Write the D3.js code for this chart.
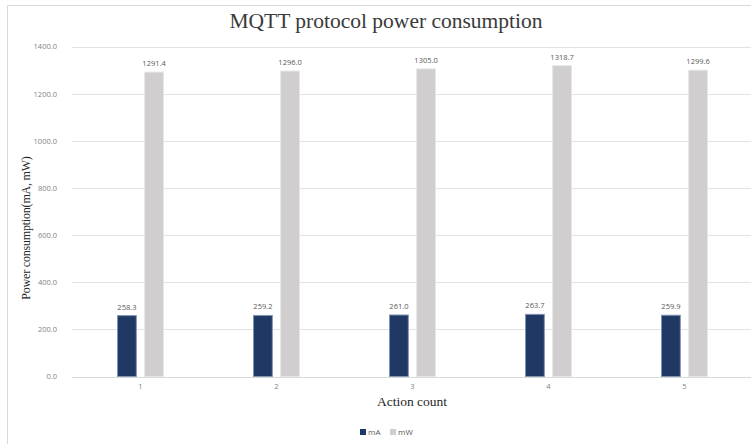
<!DOCTYPE html>
<html><head><meta charset="utf-8">
<script src="https://cdn.jsdelivr.net/npm/d3@7"></script>
<style>body{margin:0;background:#fff}svg{display:block}</style>
</head><body>
<svg id="chart" width="751" height="444"></svg>
<script>
const categories = ["1","2","3","4","5"];
const seriesNames = ["mA","mW"];
const mA = [258.3, 259.2, 261.0, 263.7, 259.9];
const mW = [1291.4, 1296.0, 1305.0, 1318.7, 1299.6];
const yTicks = [0,200,400,600,800,1000,1200,1400];
const colors = {mA:"#1f3864", mW:"#d0cece"};
const strokes = {mA:"#8497b0", mW:"#e7e6e6"};

const svg = d3.select("#chart");
svg.append("path").attr("d","M7.5,444 V5.5 H751").attr("fill","none").attr("stroke","#d9d9d9");

const x = d3.scaleBand().domain(categories).range([72.5, 752.5]).padding(0);
const inner = d3.scaleBand().domain(seriesNames).range([-23.5, 23.5]).paddingInner(0.27).paddingOuter(0);
const y = d3.scaleLinear().domain([0,1400]).range([376.5, 46.5]);

svg.append("g").selectAll("line").data(yTicks).join("line")
  .attr("x1",72).attr("x2",751).attr("y1",d=>Math.round(y(d))+0.5).attr("y2",d=>Math.round(y(d))+0.5)
  .attr("stroke","#e3e3e3").attr("stroke-width",1);

const yAxis = d3.axisLeft(y).tickValues(yTicks).tickFormat(d3.format(".1f")).tickSize(0).tickPadding(0);
const gy = svg.append("g").attr("transform","translate(57,0)").call(yAxis);
gy.select(".domain").remove();
gy.selectAll("text").attr("font-family","Open Sans, sans-serif").attr("font-size",7.5).attr("fill","#7f7f7f");

const xAxis = d3.axisBottom(x).tickSize(0).tickPadding(0);
const gx = svg.append("g").attr("transform","translate(0,384)").call(xAxis);
gx.select(".domain").remove();
gx.selectAll("text").attr("font-family","Open Sans, sans-serif").attr("font-size",7.5).attr("fill","#7f7f7f");

const data = categories.map((c,i)=>({cat:c, vals:[{k:"mA",v:mA[i]},{k:"mW",v:mW[i]}]}));
const groups = svg.append("g").selectAll("g").data(data).join("g")
  .attr("transform",d=>`translate(${x(d.cat)+x.bandwidth()/2},0)`);
groups.selectAll("rect").data(d=>d.vals).join("rect")
  .attr("x",d=>inner(d.k)+0.5).attr("width",inner.bandwidth()-1)
  .attr("y",d=>y(d.v)).attr("height",d=>y(0)-y(d.v))
  .attr("fill",d=>colors[d.k]).attr("stroke",d=>strokes[d.k]).attr("stroke-width",1);
groups.selectAll("text").data(d=>d.vals).join("text")
  .attr("x",d=>inner(d.k)+inner.bandwidth()/2).attr("y",d=>y(d.v)-6)
  .attr("text-anchor","middle").attr("font-family","Open Sans, sans-serif").attr("font-size",7.5).attr("fill","#595959")
  .text(d=>d3.format(".1f")(d.v));

svg.append("line").attr("x1",72).attr("x2",751).attr("y1",Math.round(y(0))+0.5).attr("y2",Math.round(y(0))+0.5).attr("stroke","#d9d9d9");

svg.append("text").attr("x",386).attr("y",28).attr("text-anchor","middle")
  .attr("font-family","Liberation Serif, serif").attr("font-size",21.5).attr("fill","#3a3a3a")
  .text("MQTT protocol power consumption");
svg.append("text").attr("x",412).attr("y",406).attr("text-anchor","middle")
  .attr("font-family","Liberation Serif, serif").attr("font-size",13.5).attr("fill","#262626")
  .text("Action count");
svg.append("text").attr("transform","translate(30,228) rotate(-90)").attr("text-anchor","middle")
  .attr("font-family","Liberation Serif, serif").attr("font-size",12).attr("fill","#262626")
  .attr("letter-spacing",-0.2)
  .text("Power consumption(mA, mW)");

const lg = svg.append("g").attr("transform","translate(360,429)");
const li = lg.selectAll("g").data(seriesNames).join("g").attr("transform",(d,i)=>`translate(${i*30},0)`);
li.append("rect").attr("width",6).attr("height",6).attr("fill",d=>colors[d]);
li.append("text").attr("x",8).attr("y",6).attr("font-family","Open Sans, sans-serif").attr("font-size",8).attr("fill","#595959").text(d=>d);
</script>
</body></html>
